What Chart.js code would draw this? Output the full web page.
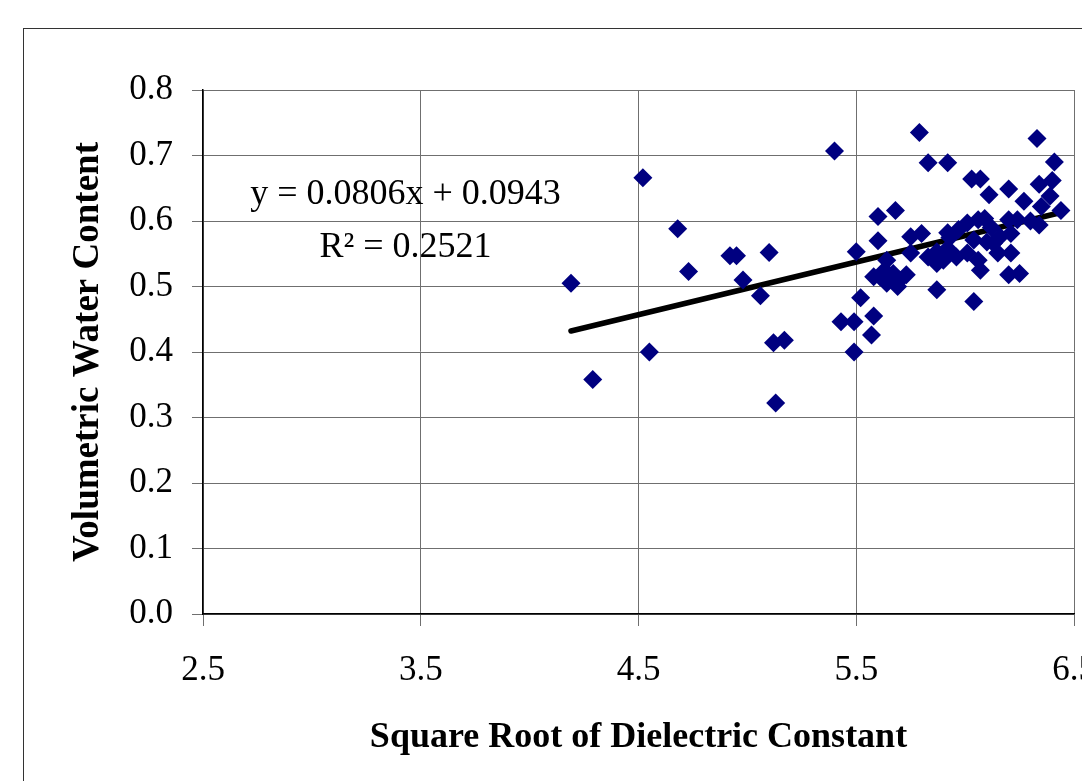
<!DOCTYPE html>
<html>
<head>
<meta charset="utf-8">
<script src="https://cdn.jsdelivr.net/npm/chart.js@4"></script>
<style>
    html, body { margin: 0; padding: 0; background: #fff; overflow: hidden; }
    #wrap { position: relative; width: 1130px; height: 781px; }
    #frame { position: absolute; left: 23px; top: 28px; width: 1200px; height: 900px; border: 1px solid #333; box-sizing: border-box; }
    canvas { position: absolute; left: 0; top: 0; }
</style>
</head>
<body>
<div id="wrap">
    <div id="frame"></div>
    <canvas id="chart" width="1130" height="781"></canvas>
</div>
<script>
// Measured points (sqrt of dielectric constant vs volumetric water content)
const dielectricRoot = [
    4.19, 4.29, 4.52, 4.55, 4.68, 4.73, 4.92, 4.95, 4.98, 5.06,
    5.10, 5.12, 5.17, 5.13, 5.40, 5.43, 5.49, 5.49, 5.50, 5.52,
    5.58, 5.57, 5.60, 5.68, 5.60, 5.58, 5.61, 5.63, 5.64, 5.64,
    5.66, 5.67, 5.69, 5.73, 5.75, 5.75, 5.80, 5.79, 5.83, 5.92,
    5.87, 5.87, 5.87, 5.92, 5.90, 5.92, 5.97, 6.01, 6.06, 6.09,
    6.01, 6.06, 6.07, 6.04, 6.03, 6.07, 6.11, 6.20, 6.27, 6.34,
    6.40, 6.39, 6.44, 6.35, 6.34, 6.33, 6.41, 6.04, 6.15, 6.21,
    6.20, 6.25, 6.16, 6.21, 6.13, 6.10, 6.20, 6.24, 5.96, 5.83,
    5.70, 6.30, 5.93, 6.12
];
const waterContent = [
    0.505, 0.358, 0.666, 0.400, 0.588, 0.523, 0.547, 0.547, 0.510, 0.486,
    0.552, 0.414, 0.418, 0.322, 0.707, 0.446, 0.446, 0.400, 0.553, 0.483,
    0.455, 0.426, 0.607, 0.616, 0.570, 0.515, 0.515, 0.525, 0.505, 0.540,
    0.515, 0.520, 0.500, 0.518, 0.551, 0.576, 0.581, 0.735, 0.689, 0.689,
    0.495, 0.535, 0.553, 0.558, 0.540, 0.582, 0.587, 0.597, 0.602, 0.604,
    0.551, 0.540, 0.525, 0.571, 0.664, 0.664, 0.640, 0.649, 0.630, 0.656,
    0.662, 0.638, 0.616, 0.622, 0.594, 0.726, 0.690, 0.477, 0.551, 0.551,
    0.518, 0.520, 0.576, 0.581, 0.566, 0.568, 0.602, 0.602, 0.545, 0.545,
    0.510, 0.600, 0.575, 0.590
];

// Linear trendline end points
const trendX = [4.19, 6.44];
const trendY = [0.432, 0.613];

// Equation labels and where they sit (data coordinates)
const eqLines = ['y = 0.0806x + 0.0943', 'R\u00B2 = 0.2521'];
const eqPosX = [3.43, 3.43];
const eqPosY = [0.640, 0.560];

const serif = '"Liberation Serif", "Times New Roman", serif';

// Draws the regression equation text on the plot
const equationLabel = {
    id: 'equationLabel',
    afterDatasetsDraw(chart) {
        const ctx = chart.ctx;
        const xs = chart.scales.x;
        const ys = chart.scales.y;
        ctx.save();
        ctx.fillStyle = '#000';
        ctx.font = '36px ' + serif;
        ctx.textAlign = 'center';
        ctx.textBaseline = 'middle';
        eqLines.forEach((txt, i) => {
            ctx.fillText(txt, xs.getPixelForValue(eqPosX[i]), ys.getPixelForValue(eqPosY[i]));
        });
        ctx.restore();
    }
};

const points = dielectricRoot.map((x, i) => ({ x: x, y: waterContent[i] }));
const trend = trendX.map((x, i) => ({ x: x, y: trendY[i] }));

new Chart(document.getElementById('chart').getContext('2d'), {
    type: 'scatter',
    data: {
        datasets: [
            {
                label: 'Data',
                data: points,
                pointStyle: 'rectRot',
                pointRadius: 9.5,
                pointHoverRadius: 9.5,
                backgroundColor: '#000080',
                borderColor: '#000080',
                borderWidth: 0
            },
            {
                label: 'Trend',
                type: 'line',
                data: trend,
                borderColor: '#000',
                borderWidth: 5.5,
                borderCapStyle: 'round',
                pointRadius: 0,
                fill: false
            }
        ]
    },
    options: {
        responsive: false,
        animation: false,
        events: [],
        layout: { padding: { left: 0, top: 90, right: 56, bottom: 0 } },
        plugins: {
            legend: { display: false },
            tooltip: { enabled: false }
        },
        scales: {
            x: {
                type: 'linear',
                min: 2.5,
                max: 6.5,
                afterFit(scale) { scale.height = 167; },
                ticks: {
                    stepSize: 1,
                    color: '#000',
                    padding: 24,
                    maxRotation: 0,
                    font: { family: serif, size: 35 },
                    callback: v => v.toFixed(1)
                },
                grid: { color: '#6f6f6f', lineWidth: 1, tickLength: 12 },
                border: { color: '#000', width: 1.5 },
                title: {
                    display: true,
                    text: 'Square Root of Dielectric Constant',
                    color: '#000',
                    font: { family: serif, size: 36, weight: 'bold' },
                    padding: { top: 0, bottom: 22 }
                }
            },
            y: {
                min: 0,
                max: 0.8,
                afterFit(scale) { scale.width = 203; },
                ticks: {
                    stepSize: 0.1,
                    color: '#000',
                    padding: 19,
                    font: { family: serif, size: 35 },
                    callback: v => v.toFixed(1)
                },
                grid: { color: '#6f6f6f', lineWidth: 1, tickLength: 11 },
                border: { color: '#000', width: 1.5 },
                title: {
                    display: true,
                    text: 'Volumetric Water Content',
                    color: '#000',
                    font: { family: serif, size: 37, weight: 'bold' },
                    padding: { top: 66, bottom: 0 }
                }
            }
        }
    },
    plugins: [equationLabel]
});
</script>
</body>
</html>
